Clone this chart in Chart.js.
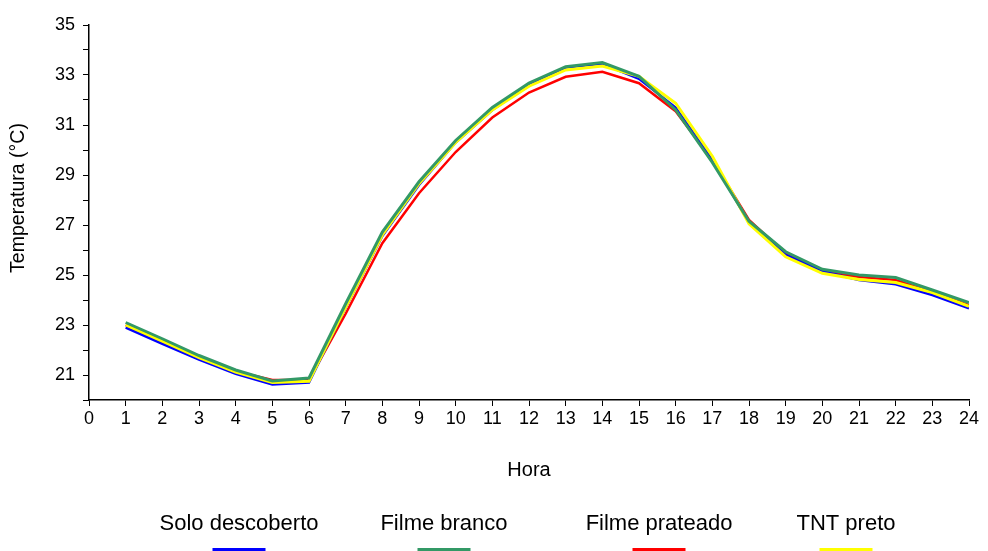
<!DOCTYPE html>
<html>
<head>
<meta charset="utf-8">
<script src="https://cdn.jsdelivr.net/npm/chart.js@4/dist/chart.umd.min.js"></script>
<style>
  html, body { margin: 0; padding: 0; background: #ffffff; }
  #wrap { width: 988px; height: 551px; }
</style>
</head>
<body>
<div id="wrap"><canvas id="c" width="988" height="551"></canvas></div>
<script>
// Hourly air temperature under each soil cover
const hours = [1,2,3,4,5,6,7,8,9,10,11,12,13,14,15,16,17,18,19,20,21,22,23,24];

const soloDescoberto = [22.90, 22.25, 21.62, 21.05, 20.62, 20.70, 23.70, 26.56, 28.60, 30.30, 31.60, 32.60,
                        33.30, 33.45, 32.85, 31.70, 29.60, 27.10, 25.80, 25.15, 24.80, 24.63, 24.20, 23.67];
const filmeBranco    = [23.10, 22.45, 21.78, 21.20, 20.76, 20.88, 23.85, 26.72, 28.73, 30.38, 31.70, 32.68,
                        33.33, 33.50, 32.95, 31.60, 29.50, 27.15, 25.93, 25.23, 25.00, 24.90, 24.40, 23.90];
const filmePrateado  = [23.00, 22.35, 21.70, 21.15, 20.80, 20.80, 23.45, 26.27, 28.27, 29.92, 31.30, 32.30,
                        32.93, 33.13, 32.67, 31.55, 29.60, 27.20, 25.85, 25.15, 24.92, 24.80, 24.30, 23.80];
const tntPreto       = [23.00, 22.35, 21.70, 21.12, 20.70, 20.75, 23.72, 26.60, 28.65, 30.30, 31.60, 32.55,
                        33.20, 33.36, 32.95, 31.87, 29.75, 27.05, 25.73, 25.07, 24.82, 24.70, 24.30, 23.75];

const seriesNames = ['Solo descoberto', 'Filme branco', 'Filme prateado', 'TNT preto'];
const xTickLabels = [0,1,2,3,4,5,6,7,8,9,10,11,12,13,14,15,16,17,18,19,20,21,22,23,24];
const yTickLabels = [21, 23, 25, 27, 29, 31, 33, 35];
const xTitle = 'Hora';
const yTitle = 'Temperatura (°C)';

const FONT = '"Liberation Sans", Arial, Helvetica, sans-serif';

function points(values) {
  return hours.map((h, i) => ({ x: h, y: values[i] }));
}

// Legend: name above a short coloured stroke, one entry per series
const bottomLegend = {
  id: 'bottomLegend',
  afterDraw(chart) {
    const ctx = chart.ctx;
    const centers = [239, 444, 659, 846];
    ctx.save();
    chart.data.datasets.forEach((ds, i) => {
      const cx = centers[i];
      ctx.fillStyle = '#000';
      ctx.font = '22px ' + FONT;
      ctx.textAlign = 'center';
      ctx.textBaseline = 'middle';
      ctx.fillText(ds.label, cx, 524);
      ctx.strokeStyle = ds.borderColor;
      ctx.lineWidth = 3;
      ctx.beginPath();
      ctx.moveTo(cx - 26.5, 549.5);
      ctx.lineTo(cx + 26.5, 549.5);
      ctx.stroke();
    });
    // vertical axis title
    ctx.translate(19, 198);
    ctx.rotate(-Math.PI / 2);
    ctx.fillStyle = '#000';
    ctx.font = '19.5px ' + FONT;
    ctx.textAlign = 'center';
    ctx.textBaseline = 'middle';
    ctx.fillText(yTitle, 0, 0);
    ctx.restore();
  }
};

const colors = ['#0000ff', '#339966', '#ff0000', '#ffff00'];
const values = [soloDescoberto, filmeBranco, filmePrateado, tntPreto];
const drawOrder = [2, 0, 3, 1];
const widths = [2.5, 3, 2.5, 3];

new Chart(document.getElementById('c'), {
  type: 'line',
  data: {
    datasets: values.map((v, i) => ({
      label: seriesNames[i],
      data: points(v),
      borderColor: colors[i],
      backgroundColor: colors[i],
      borderWidth: widths[i],
      pointRadius: 0,
      tension: 0,
      fill: false,
      order: drawOrder[i]
    }))
  },
  options: {
    responsive: false,
    devicePixelRatio: 1,
    animation: false,
    layout: { padding: { left: 0, top: 25, right: 19, bottom: 0 } },
    plugins: {
      legend: { display: false },
      tooltip: { enabled: false }
    },
    scales: {
      x: {
        type: 'linear',
        min: 0,
        max: 24,
        afterBuildTicks(scale) {
          scale.ticks = xTickLabels.map(v => ({ value: v }));
        },
        ticks: {
          color: '#000',
          font: { family: FONT, size: 18 },
          padding: 2,
          maxRotation: 0,
          autoSkip: false,
          callback: v => String(v)
        },
        grid: { display: true, drawOnChartArea: false, drawTicks: true, tickLength: 6, color: '#000', lineWidth: 1 },
        border: { display: true, color: '#000', width: 1.5 },
        title: {
          display: true,
          text: xTitle,
          color: '#000',
          font: { family: FONT, size: 20 },
          padding: { top: 0, bottom: 69 }
        },
        afterFit(scale) { scale.height = 151; }
      },
      y: {
        min: 20,
        max: 35,
        afterBuildTicks(scale) {
          const t = [];
          for (let v = 20; v <= 35; v++) t.push({ value: v });
          scale.ticks = t;
        },
        ticks: {
          color: '#000',
          font: { family: FONT, size: 18 },
          padding: 8,
          autoSkip: false,
          callback: v => (yTickLabels.includes(v) ? String(v) : '')
        },
        grid: { display: true, drawOnChartArea: false, drawTicks: true, tickLength: 6, color: '#000', lineWidth: 1 },
        border: { display: true, color: '#000', width: 1.5 },
        afterFit(scale) { scale.width = 89; }
      }
    }
  },
  plugins: [bottomLegend]
});
</script>
</body>
</html>
